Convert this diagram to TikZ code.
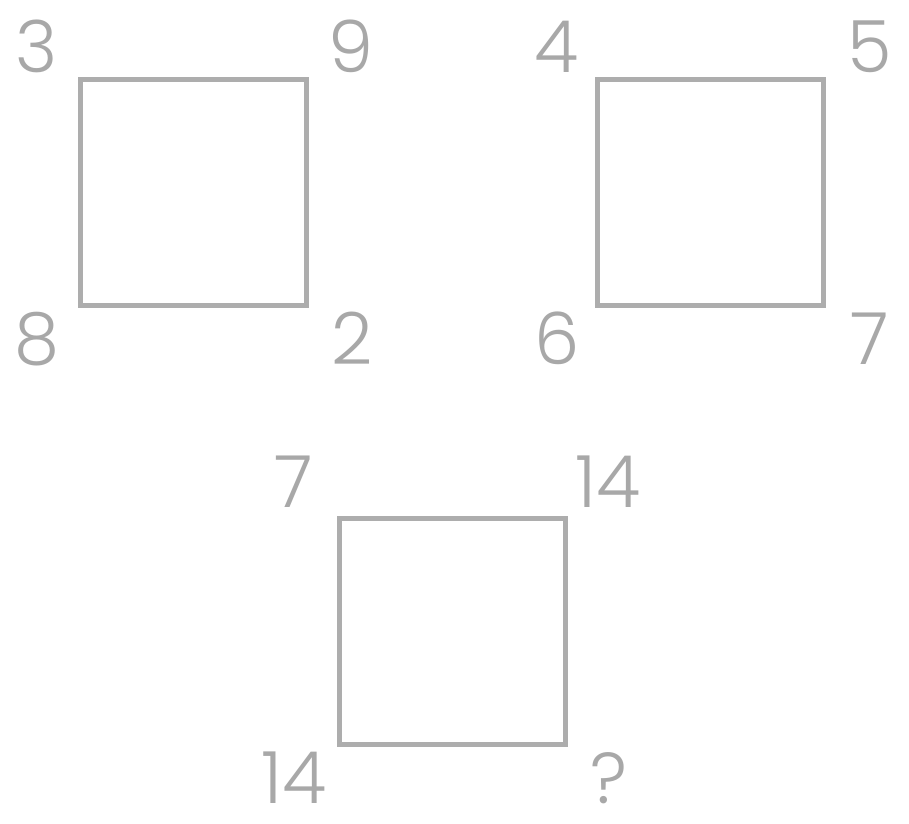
\documentclass[tikz,border=0pt]{standalone}
\usepackage{fontspec}
\setmainfont{Poppins}[UprightFont=* Light]
\definecolor{boxgray}{HTML}{ADADAD}
\definecolor{numgray}{HTML}{A8A8A8}
\begin{document}
\begin{tikzpicture}[x=1pt,y=-1pt,
  sq/.style={draw=boxgray,line width=5pt,minimum size=226pt,inner sep=0pt,outer sep=0pt,anchor=north west},
  num/.style={text=numgray,font=\fontsize{72}{72}\selectfont,anchor=base,inner sep=0pt}]
\useasboundingbox[fill=white] (0,0) rectangle (909,823);
\node[sq] (s1) at (80,79.5) {};
\node[sq] (s2) at (597,79.5) {};
\node[sq] (s3) at (339,518) {};
\node[num] (a1) at (37,72) {3};
\node[num] (a2) at (351,72) {9};
\node[num] (a3) at (37,364) {8};
\node[num] (a4) at (352,364) {2};
\node[num] (b1) at (557,72) {4};
\node[num] (b2) at (870,72) {5};
\node[num] (b3) at (557,364) {6};
\node[num] (b4) at (870,364) {7};
\node[num] (c1) at (294,507) {7};
\node[num] (c2) at (608,507) {14};
\node[num] (c3) at (294,803) {14};
\node[num] (c4) at (609,803) {?};
\end{tikzpicture}
\end{document}
